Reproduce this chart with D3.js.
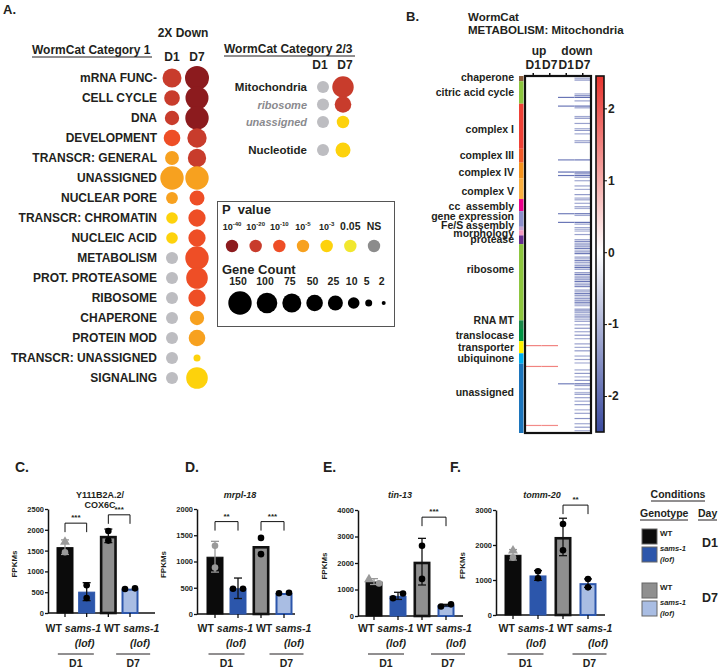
<!DOCTYPE html>
<html>
<head>
<meta charset="utf-8">
<script src="https://cdn.jsdelivr.net/npm/d3@7"></script>
<style>
  body { margin: 0; background: #fff; }
  svg { font-family: "Liberation Sans", Arial, Helvetica, sans-serif; font-weight: bold; fill: #231f20; }
  text { white-space: pre; }
</style>
</head>
<body>
<svg id="fig" width="720" height="669"></svg>
<script>
// ---------- panel A data ----------
const cat1 = ["mRNA FUNC-", "CELL CYCLE", "DNA", "DEVELOPMENT", "TRANSCR: GENERAL", "UNASSIGNED",
  "NUCLEAR PORE", "TRANSCR: CHROMATIN", "NUCLEIC ACID", "METABOLISM", "PROT. PROTEASOME",
  "RIBOSOME", "CHAPERONE", "PROTEIN MOD", "TRANSCR: UNASSIGNED", "SIGNALING"];
const cat1D1Count = [75, 35, 22, 50, 20, 150, 11, 10, 10, 12, 12, 12, 12, 12, 12, 12];
const cat1D7Count = [160, 143, 150, 80, 68, 150, 25, 57, 57, 150, 118, 57, 22, 50, 5, 118];
const cat1D1P = ["1e-20", "1e-20", "1e-20", "1e-10", "1e-5", "1e-5", "1e-5", "1e-3", "1e-3",
  "NS", "NS", "NS", "NS", "NS", "NS", "NS"];
const cat1D7P = ["1e-40", "1e-40", "1e-40", "1e-20", "1e-20", "1e-5", "1e-10", "1e-10", "1e-10",
  "1e-10", "1e-10", "1e-10", "1e-5", "1e-5", "1e-3", "1e-3"];

const cat23 = ["Mitochondria", "ribosome", "unassigned", "Nucleotide"];
const cat23Sub = [false, true, true, false];
const cat23Group = [0, 0, 0, 1];
const cat23D1Count = [12, 12, 12, 12];
const cat23D7Count = [115, 50, 14, 25];
const cat23D1P = ["NS", "NS", "NS", "NS"];
const cat23D7P = ["1e-20", "1e-20", "1e-3", "1e-3"];

const pLevels = ["1e-40", "1e-20", "1e-10", "1e-5", "1e-3", "0.05", "NS"];
const pLabels = [["10", "-40"], ["10", "-20"], ["10", "-10"], ["10", "-5"], ["10", "-3"], ["0.05", ""], ["NS", ""]];
const countLegend = [150, 100, 75, 50, 25, 10, 5, 2];

// ---------- panel B data (log2 fold change per gene, grouped by category) ----------
const hmCategories = ["chaperone", "citric acid cycle", "complex I", "complex III", "complex IV",
  "complex V", "cc  assembly", "gene expression", "Fe/S assembly", "morphology", "protease",
  "ribosome", "RNA MT", "translocase", "transporter", "ubiquinone", "unassigned"];
const hmDownD7 = [
  [-1.4, -1.1, -1.5],
  [0, 0, 0, 0, 0, 0, 0, -1.2, -1.6, -2.0, 0, -1.3, 0],
  [0, -2.0, -1.3, 0, 0, 0, 0, -1.2, -1.5, 0, 0, -1.3, 0, 0, -1.1, -1.4, 0, -1.2, 0, 0, 0, -1.3, -1.2, 0, 0, 0],
  [0, 0, 0, 0, 0, 0, -1.9, 0],
  [0, 0, 0, 0, 0, -2.1, -1.5, -2.0, -1.3],
  [0, -1.2, 0, 0, -1.3, 0, -1.1, 0, 0, -1.4, 0, -1.2],
  [-1.3, 0, -1.2, 0, -1.4, -1.1, 0],
  [0, -1.9, -1.2, 0, 0, 0, -2.0, -1.3, 0],
  [-1.2, -1.0],
  [-1.1, 0, -1.3],
  [0, 0, -1.4, -1.6, -1.2],
  [-1.6, -1.3, -1.8, -1.0, -1.5, -1.9, 0, -1.4, -1.2, -1.7, -1.3, -1.0, -1.6, -2.0, -1.4, 0, -1.5, -1.8, -1.2, -1.6, -1.3, -1.9,
   -1.1, -1.5, -1.7, 0, -1.4, -1.2, -1.8, -1.5, -1.0, -1.6, -1.3, -1.9, -1.4, -1.1, 0, -1.5, -1.7, -1.2, -1.0, -1.6, -1.3, -0.9],
  [-1.3, 0, -1.2, 0, -1.4],
  [0, -1.2, 0, -1.5, 0, -1.1, 0],
  [0, -1.3, 0, -1.2, 0, -1.4, 0],
  [0, -1.2, 0, -1.3, 0, -1.1],
  [0, 0, 0, -1.2, 0, -1.4, 0, -1.1, 0, -1.5, 0, -2.0, -1.3, 0, -1.2, 0, -1.0, -1.5, 0, -1.3, 0, -1.2, 0, -1.4, 0, 0,
   -1.1, 0, -1.3, 0, 0, -1.5, 0, 0, -1.2, 0, -1.4, 0, -1.1, 0]
];
const hmDownD1Rows = [12, 17, 48, 55, 57, 79, 84, 177];
const hmDownD1Vals = [-1.9, -1.9, -1.8, -2.0, -1.9, -1.8, -1.9, -1.8];
const hmUpRows = [155, 167, 201];
const hmUpVals = [1.5, 1.5, 1.4];
const hmColumns = ["up D1", "up D7", "down D1", "down D7"];
const cbTicks = [2, 1, 0, -1, -2];

// ---------- panels C-F data (FPKMs) ----------
const groups = ["WT D1", "sams-1 D1", "WT D7", "sams-1 D7"];
const cMean = [1583, 513, 1855, 585], cSD = [175, 216, 163, 7];
const cPts = [[1707, 1459], [666, 361], [1971, 1740], [578, 592]];
const cTicks = [0, 500, 1000, 1500, 2000, 2500];
const dMean = [1091, 490, 1295, 400], dSD = [293, 195, 0, 8];
const dPts = [[1299, 884], [480, 482], [1450, 1140], [395, 405]];
const dTicks = [0, 500, 1000, 1500, 2000];
const eMean = [1300, 760, 2050, 410], eSD = [110, 135, 880, 30];
const ePts = [[1380, 1230], [670, 850], [2650, 1400], [360, 440]];
const eTicks = [0, 1000, 2000, 3000, 4000];
const fMean = [1720, 1130, 2230, 910], fSD = [150, 140, 535, 120];
const fPts = [[1840, 1640], [1250, 1050], [2600, 1850], [1030, 790]];
const fTicks = [0, 1000, 2000, 3000];

const svg = d3.select("#fig");
const ink = "#231f20";

function label(x, y, txt, size, anchor, extra) {
  const t = svg.append("text").attr("x", x).attr("y", y).attr("font-size", size)
    .attr("text-anchor", anchor || "start").attr("fill", ink).text(txt);
  if (extra) extra(t);
  return t;
}
function underline(x0, x1, y) {
  svg.append("line").attr("x1", x0).attr("x2", x1).attr("y1", y).attr("y2", y)
    .attr("stroke", ink).attr("stroke-width", 1);
}

// ================= Panel A =================
const pColor = d3.scaleOrdinal().domain(pLevels)
  .range(["#8c1b1e", "#c83c2c", "#ee4e26", "#f7a11f", "#fdd20c", "#f1e72e", "#bdbdc1"]);
const rScale = d3.scaleLinear().domain(countLegend.slice().reverse())
  .range([2, 3.5, 5.8, 7.5, 8.3, 9.5, 10.3, 11.7]);

label(3, 14, "A.", 13);
label(183, 37, "2X Down", 12, "middle");
label(32, 54, "WormCat Category 1", 12);
underline(32, 152, 57);
const xA = d3.scalePoint().domain(["D1", "D7"]).range([172, 197]);
["D1", "D7"].forEach(d => label(xA(d), 61, d, 12, "middle"));

const yA = d3.scalePoint().domain(cat1).range([78, 378]);
cat1.forEach((c, i) => {
  label(157, yA(c) + 4.3, c, 12, "end");
  svg.append("circle").attr("cx", xA("D1")).attr("cy", yA(c))
    .attr("r", rScale(cat1D1Count[i])).attr("fill", pColor(cat1D1P[i]));
  svg.append("circle").attr("cx", xA("D7")).attr("cy", yA(c))
    .attr("r", rScale(cat1D7Count[i])).attr("fill", pColor(cat1D7P[i]));
});

label(224, 53, "WormCat Category 2/3", 12);
underline(224, 355, 56);
const x23 = d3.scalePoint().domain(["D1", "D7"]).range([323, 343]);
label(320, 69, "D1", 12, "middle");
label(345, 69, "D7", 12, "middle");
const y23 = d3.scaleLinear().domain([0, 1]).range([87, 104.5]);
cat23.forEach((c, i) => {
  const y = y23(i) + cat23Group[i] * 10.5;
  label(307, y + 4, c, 11.5, "end", t => {
    if (cat23Sub[i]) t.attr("font-style", "italic").attr("fill", "#8a8a8e").attr("font-size", 11);
  });
  svg.append("circle").attr("cx", x23("D1")).attr("cy", y)
    .attr("r", rScale(cat23D1Count[i])).attr("fill", pColor(cat23D1P[i]));
  svg.append("circle").attr("cx", x23("D7")).attr("cy", y)
    .attr("r", rScale(cat23D7Count[i])).attr("fill", pColor(cat23D7P[i]));
});

// legend box
svg.append("rect").attr("x", 217.5).attr("y", 201.5).attr("width", 177).attr("height", 125)
  .attr("fill", "none").attr("stroke", "#555").attr("stroke-width", 1);
label(222, 214, "P  value", 13);
const xP = d3.scalePoint().domain(pLevels).range([232, 374]);
pLevels.forEach((p, i) => {
  const t = label(xP(p), 230, pLabels[i][0], pLabels[i][1] ? 9 : 10.5, "middle");
  if (pLabels[i][1]) t.append("tspan").attr("dy", -4).attr("font-size", 6).text(pLabels[i][1]);
  svg.append("circle").attr("cx", xP(p)).attr("cy", 246).attr("r", 6.2)
    .attr("fill", p === "NS" ? "#8c8c8c" : pColor(p));
});
label(222, 274, "Gene Count", 13);
// size legend circles packed side by side
let gx = 240;
countLegend.forEach((n, i) => {
  if (i > 0) gx += Math.max(rScale(countLegend[i - 1]) + rScale(n) + 5, 15);
  label(gx - 2, 285, String(n), 10.5, "middle");
  svg.append("circle").attr("cx", gx).attr("cy", 303).attr("r", rScale(n)).attr("fill", "#000");
});

// ================= Panel B =================
label(406, 21, "B.", 13);
label(468, 21, "WormCat", 11.5);
label(468, 34, "METABOLISM: Mitochondria", 11.5);

const rows = [];
const catRanges = [];
hmDownD7.forEach((arr, ci) => {
  catRanges.push([rows.length, rows.length + arr.length]);
  arr.forEach(v => rows.push({ cat: ci, d7: v }));
});
const hmTop = 76, hmBottom = 433, hmLeft = 525, hmRight = 591;
const rowY = d3.scaleLinear().domain([0, rows.length]).range([hmTop, hmBottom]);
const rowBand = d3.scaleBand().domain(d3.range(rows.length)).range([hmTop, hmBottom]).paddingInner(0.32);
const colX = d3.scaleBand().domain(hmColumns).range([hmLeft, hmRight]);
const hmColor = d3.scaleLinear().domain([-2.5, 0, 2.5]).range(["#3a4a9f", "#ffffff", "#e8302a"]);

label(539, 55, "up", 12, "middle");
label(577, 55, "down", 12, "middle");
["D1", "D7", "D1", "D7"].forEach((d, i) => label(colX(hmColumns[i]) + colX.bandwidth() / 2, 69, d, 12, "middle"));

const stripColors = ["#8b5e3c", "#8dc63f", "#ef4136", "#f15a29", "#f7941d", "#fbb040", "#ec008c",
  "#8c8fcb", "#c9a3d1", "#f49ac1", "#662d91", "#8dc63f", "#1a8a4a", "#009444", "#fff200", "#00aeef", "#1c75bc"];
const labelNudge = [-1.5, 0, 3, 0, 1.5, 3, 1, -3, -3.5, 0, 0, -13, -4.5, 0, 0, 0, -6];
hmCategories.forEach((c, i) => {
  const [a, b] = catRanges[i];
  svg.append("rect").attr("x", 519).attr("y", rowY(a)).attr("width", 4.5)
    .attr("height", rowY(b) - rowY(a)).attr("fill", stripColors[i]);
  label(514, (rowY(a) + rowY(b)) / 2 + labelNudge[i] + 3.7, c, 10.5, "end");
});

const hmG = svg.append("g");
rows.forEach((r, i) => {
  if (r.d7 !== 0) hmG.append("rect").attr("x", colX("down D7")).attr("y", rowBand(i))
    .attr("width", colX.bandwidth()).attr("height", rowBand.bandwidth()).attr("fill", hmColor(r.d7));
});
hmDownD1Rows.forEach((ri, k) => {
  hmG.append("rect").attr("x", colX("down D1")).attr("y", rowBand(ri))
    .attr("width", colX.bandwidth()).attr("height", rowBand.bandwidth()).attr("fill", hmColor(hmDownD1Vals[k]));
});
hmUpRows.forEach((ri, k) => {
  ["up D1", "up D7"].forEach(c => hmG.append("rect").attr("x", colX(c)).attr("y", rowBand(ri))
    .attr("width", colX.bandwidth()).attr("height", rowBand.bandwidth()).attr("fill", hmColor(hmUpVals[k])));
});
svg.append("rect").attr("x", hmLeft).attr("y", hmTop).attr("width", hmRight - hmLeft)
  .attr("height", hmBottom - hmTop).attr("fill", "none").attr("stroke", "#111").attr("stroke-width", 2.2);
hmColumns.forEach(c => {
  const x = colX(c) + colX.bandwidth() / 2;
  svg.append("line").attr("x1", x).attr("x2", x).attr("y1", hmTop - 3).attr("y2", hmTop)
    .attr("stroke", "#111").attr("stroke-width", 1.5);
});

// colour bar
const cbScale = d3.scaleLinear().domain([2.45, -2.5]).range([hmTop, 432]);
const grad = svg.append("defs").append("linearGradient").attr("id", "cb")
  .attr("x1", 0).attr("x2", 0).attr("y1", 0).attr("y2", 1);
[2.45, 0, -2.5].forEach(v => grad.append("stop")
  .attr("offset", (cbScale(v) - hmTop) / (432 - hmTop)).attr("stop-color", hmColor(v)));
svg.append("rect").attr("x", 596).attr("y", hmTop).attr("width", 8).attr("height", 432 - hmTop)
  .attr("fill", "url(#cb)").attr("stroke", "#111").attr("stroke-width", 1.6);
const cbAxis = svg.append("g").attr("transform", "translate(604,0)")
  .call(d3.axisRight(cbScale).tickValues(cbTicks).tickSize(3).tickFormat(d => String(d)));
cbAxis.select(".domain").remove();
cbAxis.selectAll("text").attr("font-size", 12).attr("font-weight", "bold").attr("fill", ink)
  .attr("font-family", "Liberation Sans, Arial, sans-serif").attr("x", 4);
cbAxis.selectAll("line").attr("stroke", "#111");

// ================= Panels C-F =================
const panels = [
  { letter: "C.", lx: 15, title: ["Y111B2A.2/", "COX6C"], italic: false, tx: 100, mean: cMean, sd: cSD, pts: cPts,
    ticks: cTicks, axisX: 48, c0: 65, c1: 130, axisEnd: 155, y0: 613, yTop: 509, tri: true,
    sig: [["***", 0, 1, 2160], ["***", 2, 3, 2360]] },
  { letter: "D.", lx: 185, title: ["mrpl-18"], italic: true, tx: 240, mean: dMean, sd: dSD, pts: dPts,
    ticks: dTicks, axisX: 197, c0: 215, c1: 284, axisEnd: 295, y0: 614, yTop: 509, tri: false,
    sig: [["**", 0, 1, 1760], ["***", 2, 3, 1760]] },
  { letter: "E.", lx: 323, title: ["tin-13"], italic: true, tx: 400, mean: eMean, sd: eSD, pts: ePts,
    ticks: eTicks, axisX: 358, c0: 374, c1: 446, axisEnd: 463, y0: 616, yTop: 510, tri: true,
    sig: [["***", 2, 3, 3730]] },
  { letter: "F.", lx: 450, title: ["tomm-20"], italic: true, tx: 542, mean: fMean, sd: fSD, pts: fPts,
    ticks: fTicks, axisX: 496, c0: 513, c1: 588, axisEnd: 605, y0: 615, yTop: 510, tri: true,
    sig: [["**", 2, 3, 3140]] }
];
const barFill = ["#0b0b0b", "#2c56ab", "#8f8f8f", "#a9bde3"];
const barStroke = ["#0b0b0b", "#2c56ab", "#111", "#2c56ab"];
const barStrokeW = [1, 1, 2.6, 2];

panels.forEach(p => {
  label(p.lx, 472, p.letter, 14);
  p.title.forEach((t, i) => label(p.tx, 498 + i * 10, t, 9, "middle",
    s => { if (p.italic) s.attr("font-style", "italic"); }));
  const y = d3.scaleLinear().domain([0, d3.max(p.ticks)]).range([p.y0, p.yTop]);
  const x = d3.scalePoint().domain(groups).range([p.c0, p.c1]);
  const bw = 17;

  const ax = svg.append("g").attr("transform", `translate(${p.axisX},0)`)
    .call(d3.axisLeft(y).tickValues(p.ticks).tickSize(3).tickSizeOuter(0).tickFormat(d3.format("d")));
  ax.select(".domain").attr("stroke", "#111").attr("stroke-width", 1.5);
  ax.selectAll("line").attr("stroke", "#111").attr("stroke-width", 1.3);
  ax.selectAll("text").attr("font-size", 7.5).attr("font-weight", "bold").attr("fill", ink)
    .attr("font-family", "Liberation Sans, Arial, sans-serif").attr("x", -4);
  label(0, 0, "FPKMs", 8, "middle", t => t.attr("transform",
    `translate(${p.axisX - 31},${(p.y0 + p.yTop) / 2 + 3}) rotate(-90)`));

  svg.append("line").attr("x1", p.axisX).attr("x2", p.axisEnd).attr("y1", p.y0).attr("y2", p.y0)
    .attr("stroke", "#111").attr("stroke-width", 1.5);

  groups.forEach((g, i) => {
    const cx = x(g);
    const sw = barStrokeW[i];
    svg.append("rect").attr("x", cx - bw / 2 + sw / 2).attr("y", y(p.mean[i]) + sw / 2)
      .attr("width", bw - sw).attr("height", p.y0 - y(p.mean[i]) - sw / 2)
      .attr("fill", barFill[i]).attr("stroke", barStroke[i]).attr("stroke-width", sw);
    svg.append("line").attr("x1", cx).attr("x2", cx).attr("y1", p.y0).attr("y2", p.y0 + 4)
      .attr("stroke", "#111").attr("stroke-width", 1.3);

    const ec = i === 0 ? "#9a9a9a" : "#111";
    if (p.sd[i] > 20) {
      const lo = y(p.mean[i] - p.sd[i]), hi = y(p.mean[i] + p.sd[i]);
      svg.append("line").attr("x1", cx).attr("x2", cx).attr("y1", lo).attr("y2", hi)
        .attr("stroke", ec).attr("stroke-width", 1.3);
      [lo, hi].forEach(yy => svg.append("line").attr("x1", cx - 4).attr("x2", cx + 4)
        .attr("y1", yy).attr("y2", yy).attr("stroke", ec).attr("stroke-width", 1.3));
    }
    const pts = p.pts[i];
    const close = Math.abs(y(pts[0]) - y(pts[1])) < 7;
    pts.forEach((v, k) => {
      const px = close ? cx + (k === 0 ? -5 : 5) : cx;
      const col = i === 0 ? "#9a9a9a" : "#000";
      if (i === 0 && p.tri && k === 0) {
        svg.append("path").attr("d", d3.symbol(d3.symbolTriangle, 42)())
          .attr("transform", `translate(${px},${y(v)})`).attr("fill", col);
      } else {
        svg.append("circle").attr("cx", px).attr("cy", y(v)).attr("r", 3.3).attr("fill", col);
      }
    });
  });

  p.sig.forEach(([s, a, b, v]) => {
    const yy = y(v), xa = x(groups[a]), xb = x(groups[b]);
    svg.append("path").attr("d", `M${xa},${yy + 9}V${yy}H${xb}V${yy + 9}`)
      .attr("fill", "none").attr("stroke", "#111").attr("stroke-width", 1);
    label((xa + xb) / 2, yy - 3, s, 8, "middle");
  });

  // category labels
  const mid = (p.c0 + p.c1) / 2 + 5;
  const t = label(mid, 632, "", 10.5, "middle");
  t.append("tspan").text("WT ");
  t.append("tspan").attr("font-style", "italic").text("sams-1");
  t.append("tspan").text(" WT ");
  t.append("tspan").attr("font-style", "italic").text("sams-1");
  label(x(groups[1]) - 2, 647, "(lof)", 10.5, "middle", s => s.attr("font-style", "italic"));
  label(x(groups[3]) + 10, 647, "(lof)", 10.5, "middle", s => s.attr("font-style", "italic"));
  const m1 = (x(groups[0]) + x(groups[1])) / 2, m2 = (x(groups[2]) + x(groups[3])) / 2 + 14;
  underline(m1 - 18, m1 + 18, 654);
  underline(m2 - 17, m2 + 17, 654);
  label(m1, 667, "D1", 10.5, "middle");
  label(m2, 667, "D7", 10.5, "middle");
});

// conditions legend
label(678, 498, "Conditions", 10.5, "middle");
underline(651, 705, 501);
label(640, 517, "Genotype", 10.5);
underline(640, 688, 520);
label(698, 517, "Day", 10.5);
underline(698, 717, 520);
// swatches: pairs per day, the second day block set lower
const legRow = d3.scaleLinear().domain([0, 1]).range([529, 547]);
const dayGap = 18;
groups.forEach((g, i) => {
  const top = legRow(i) + (i >= 2 ? dayGap : 0);
  svg.append("rect").attr("x", 642).attr("y", top).attr("width", 15).attr("height", 15)
    .attr("fill", barFill[i]).attr("stroke", "#666").attr("stroke-width", 1);
  if (g.startsWith("WT")) label(660, top + 7, "WT", 8);
  else {
    label(660, top + 4, "sams-1", 7.5, "start", s => s.attr("font-style", "italic"));
    label(660, top + 15, "(lof)", 7.5, "start", s => s.attr("font-style", "italic"));
  }
});
label(710, 547, "D1", 12.5, "middle");
label(710, 602, "D7", 12.5, "middle");
</script>
</body>
</html>
